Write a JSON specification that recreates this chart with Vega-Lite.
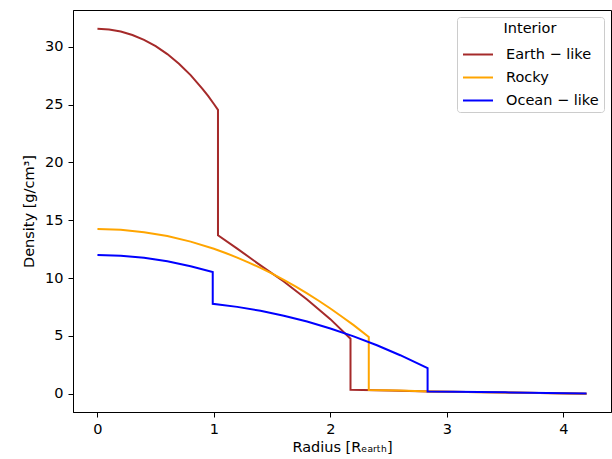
{
  "$schema": "https://vega.github.io/schema/vega-lite/v6.json",
  "width": 538,
  "height": 402,
  "autosize": {"type": "none"},
  "padding": {"left": 73, "top": 10, "right": 1, "bottom": 47},
  "config": {
    "font": "DejaVu Sans",
    "view": {"stroke": "black", "strokeWidth": 1},
    "axis": {
      "grid": false,
      "domainColor": "black",
      "tickColor": "black",
      "labelColor": "black",
      "titleColor": "black",
      "labelFontSize": 14.5,
      "titleFontSize": 14.5,
      "titleFontWeight": "normal",
      "tickSize": 5,
      "labelPadding": 5
    }
  },
  "data": {
    "values": [
      {"series": "Earth − like", "i": 0, "x": 0, "y": 31.55},
      {"series": "Earth − like", "i": 1, "x": 0.1, "y": 31.49},
      {"series": "Earth − like", "i": 2, "x": 0.2, "y": 31.32},
      {"series": "Earth − like", "i": 3, "x": 0.3, "y": 31.02},
      {"series": "Earth − like", "i": 4, "x": 0.4, "y": 30.6},
      {"series": "Earth − like", "i": 5, "x": 0.5, "y": 30.06},
      {"series": "Earth − like", "i": 6, "x": 0.6, "y": 29.37},
      {"series": "Earth − like", "i": 7, "x": 0.7, "y": 28.54},
      {"series": "Earth − like", "i": 8, "x": 0.8, "y": 27.55},
      {"series": "Earth − like", "i": 9, "x": 0.9, "y": 26.39},
      {"series": "Earth − like", "i": 10, "x": 0.95, "y": 25.75},
      {"series": "Earth − like", "i": 11, "x": 1.0, "y": 25.05},
      {"series": "Earth − like", "i": 12, "x": 1.035, "y": 24.54},
      {"series": "Earth − like", "i": 13, "x": 1.035, "y": 13.7},
      {"series": "Earth − like", "i": 14, "x": 1.2, "y": 12.55},
      {"series": "Earth − like", "i": 15, "x": 1.4, "y": 11.1},
      {"series": "Earth − like", "i": 16, "x": 1.6, "y": 9.7},
      {"series": "Earth − like", "i": 17, "x": 1.8, "y": 8.15},
      {"series": "Earth − like", "i": 18, "x": 2.0, "y": 6.45},
      {"series": "Earth − like", "i": 19, "x": 2.173, "y": 4.75},
      {"series": "Earth − like", "i": 20, "x": 2.173, "y": 0.35},
      {"series": "Earth − like", "i": 21, "x": 2.5, "y": 0.28},
      {"series": "Earth − like", "i": 22, "x": 2.85, "y": 0.2},
      {"series": "Earth − like", "i": 23, "x": 3.5, "y": 0.1},
      {"series": "Earth − like", "i": 24, "x": 4.2, "y": 0.0},
      {"series": "Rocky", "i": 0, "x": 0, "y": 14.25},
      {"series": "Rocky", "i": 1, "x": 0.2, "y": 14.18},
      {"series": "Rocky", "i": 2, "x": 0.4, "y": 13.97},
      {"series": "Rocky", "i": 3, "x": 0.6, "y": 13.63},
      {"series": "Rocky", "i": 4, "x": 0.8, "y": 13.15},
      {"series": "Rocky", "i": 5, "x": 1.0, "y": 12.53},
      {"series": "Rocky", "i": 6, "x": 1.1, "y": 12.17},
      {"series": "Rocky", "i": 7, "x": 1.2, "y": 11.77},
      {"series": "Rocky", "i": 8, "x": 1.3, "y": 11.34},
      {"series": "Rocky", "i": 9, "x": 1.4, "y": 10.88},
      {"series": "Rocky", "i": 10, "x": 1.5, "y": 10.38},
      {"series": "Rocky", "i": 11, "x": 1.6, "y": 9.85},
      {"series": "Rocky", "i": 12, "x": 1.7, "y": 9.28},
      {"series": "Rocky", "i": 13, "x": 1.8, "y": 8.68},
      {"series": "Rocky", "i": 14, "x": 1.9, "y": 8.04},
      {"series": "Rocky", "i": 15, "x": 2.0, "y": 7.37},
      {"series": "Rocky", "i": 16, "x": 2.1, "y": 6.66},
      {"series": "Rocky", "i": 17, "x": 2.2, "y": 5.93},
      {"series": "Rocky", "i": 18, "x": 2.33, "y": 4.91},
      {"series": "Rocky", "i": 19, "x": 2.33, "y": 0.32},
      {"series": "Rocky", "i": 20, "x": 2.6, "y": 0.27},
      {"series": "Rocky", "i": 21, "x": 2.85, "y": 0.2},
      {"series": "Rocky", "i": 22, "x": 3.5, "y": 0.1},
      {"series": "Rocky", "i": 23, "x": 4.2, "y": 0.0},
      {"series": "Ocean − like", "i": 0, "x": 0, "y": 12.0},
      {"series": "Ocean − like", "i": 1, "x": 0.2, "y": 11.94},
      {"series": "Ocean − like", "i": 2, "x": 0.4, "y": 11.76},
      {"series": "Ocean − like", "i": 3, "x": 0.6, "y": 11.46},
      {"series": "Ocean − like", "i": 4, "x": 0.8, "y": 11.03},
      {"series": "Ocean − like", "i": 5, "x": 0.99, "y": 10.52},
      {"series": "Ocean − like", "i": 6, "x": 0.99, "y": 7.77},
      {"series": "Ocean − like", "i": 7, "x": 1.2, "y": 7.51},
      {"series": "Ocean − like", "i": 8, "x": 1.4, "y": 7.17},
      {"series": "Ocean − like", "i": 9, "x": 1.6, "y": 6.75},
      {"series": "Ocean − like", "i": 10, "x": 1.8, "y": 6.24},
      {"series": "Ocean − like", "i": 11, "x": 2.0, "y": 5.64},
      {"series": "Ocean − like", "i": 12, "x": 2.2, "y": 4.96},
      {"series": "Ocean − like", "i": 13, "x": 2.4, "y": 4.19},
      {"series": "Ocean − like", "i": 14, "x": 2.6, "y": 3.33},
      {"series": "Ocean − like", "i": 15, "x": 2.835, "y": 2.22},
      {"series": "Ocean − like", "i": 16, "x": 2.835, "y": 0.2},
      {"series": "Ocean − like", "i": 17, "x": 3.5, "y": 0.12},
      {"series": "Ocean − like", "i": 18, "x": 4.2, "y": 0.02}
    ]
  },
  "mark": {"type": "line", "strokeWidth": 2, "clip": true},
  "encoding": {
    "x": {
      "field": "x",
      "type": "quantitative",
      "scale": {"domain": [-0.21, 4.41], "nice": false, "zero": false},
      "axis": {"values": [0, 1, 2, 3, 4], "title": "Radius [Rₑₐᵣₜₕ]", "titlePadding": 5}
    },
    "y": {
      "field": "y",
      "type": "quantitative",
      "scale": {"domain": [-1.58, 33.18], "nice": false, "zero": false},
      "axis": {"values": [0, 5, 10, 15, 20, 25, 30], "title": "Density [g/cm³]", "titlePadding": 8}
    },
    "color": {
      "field": "series",
      "type": "nominal",
      "scale": {
        "domain": ["Earth − like", "Rocky", "Ocean − like"],
        "range": ["#a52a2a", "#ffa500", "#0000ff"]
      },
      "legend": {
        "title": "Interior",
        "orient": "top-right",
        "offset": 7,
        "padding": 5,
        "symbolType": "stroke",
        "symbolSize": 900,
        "symbolStrokeWidth": 2,
        "labelOffset": 12,
        "labelFontSize": 14.5,
        "titleFontSize": 14.5,
        "titleFontWeight": "normal",
        "titleAnchor": "middle",
        "titlePadding": 2,
        "titleColor": "black",
        "labelColor": "black",
        "rowPadding": -7,
        "strokeColor": "#cccccc",
        "fillColor": "white",
        "cornerRadius": 3
      }
    },
    "order": {"field": "i", "type": "quantitative"}
  }
}
